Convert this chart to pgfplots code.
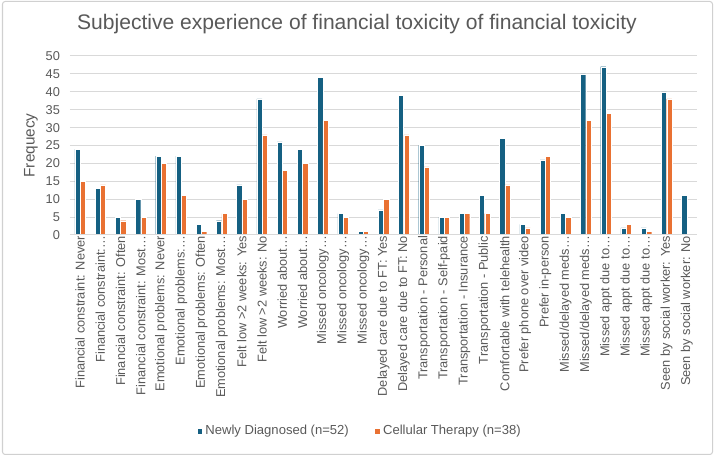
\documentclass[border=0pt]{standalone}
\usepackage{pgfplots}
\pgfplotsset{compat=1.18}
\usepackage{fontspec}
\setmainfont{Liberation Sans}
\definecolor{ndblue}{HTML}{156082}
\definecolor{ctorange}{HTML}{E97132}
\definecolor{txtgray}{HTML}{595959}
\definecolor{gridgray}{HTML}{D9D9D9}
\definecolor{framegray}{HTML}{D0D0D0}

% Frequencies per item: Newly Diagnosed (nd) and Cellular Therapy (ct)
\pgfplotstableread{
x nd ct
0  24 15
1  13 14
2  5  4
3  10 5
4  22 20
5  22 11
6  3  1
7  4  6
8  14 10
9  38 28
10 26 18
11 24 20
12 44 32
13 6  5
14 1  1
15 7  10
16 39 28
17 25 19
18 5  5
19 6  6
20 11 6
21 27 14
22 3  2
23 21 22
24 6  5
25 45 32
26 47 34
27 2  3
28 2  1
29 40 38
30 11 0
}\ftdata

\begin{document}
\begin{tikzpicture}
\begin{scope}[x=0.75pt,y=0.75pt]
\useasboundingbox (0,0) rectangle (715,456);
\draw[framegray,line width=0.75pt,rounded corners=2pt] (2.5,1.5) rectangle (712.5,454.5);
\node[txtgray,font=\fontsize{15.8}{18}\selectfont] at (357,432) {Subjective experience of financial toxicity of financial toxicity};
\end{scope}
\begin{axis}[
  at={(52.5pt,165.75pt)}, anchor=south west,
  scale only axis, width=470.25pt, height=134.25pt,
  xmin=-0.5, xmax=30.5, ymin=0, ymax=50,
  ytick={0,5,...,50},
  xtick=data,
  xticklabels={
    {Financial constraint: Never},
    {Financial constraint:\dots},
    {Financial constraint: Often},
    {Financial constraint: Most\dots},
    {Emotional problems: Never},
    {Emotional problems:\dots},
    {Emotional problems: Often},
    {Emotional problems: Most\dots},
    {Felt low >2 weeks: Yes},
    {Felt low >2 weeks: No},
    {Worried about\dots},
    {Worried about\dots},
    {Missed oncology\dots},
    {Missed oncology\dots},
    {Missed oncology\dots},
    {Delayed care due to FT: Yes},
    {Delayed care due to FT: No},
    {Transportation - Personal},
    {Transportation - Self-paid},
    {Transportation - Insurance},
    {Transportation - Public},
    {Comfortable with telehealth},
    {Prefer phone over video},
    {Prefer in-person},
    {Missed/delayed meds\dots},
    {Missed/delayed meds\dots},
    {Missed appt due to\dots},
    {Missed appt due to\dots},
    {Missed appt due to\dots},
    {Seen by social worker: Yes},
    {Seen by social worker: No}},
  xticklabel style={rotate=90, anchor=east, font=\fontsize{9.6}{10}\selectfont, text=txtgray, inner sep=1pt, xshift=0.5pt},
  yticklabel style={font=\fontsize{9.6}{10}\selectfont, text=txtgray, xshift=-4pt},
  /pgf/number format/assume math mode=true,
  major tick length=0pt,
  axis line style={draw=none},
  ymajorgrids, grid style={gridgray, line width=0.75pt},
  ylabel={Frequecy},
  ylabel style={font=\fontsize{11.5}{12}\selectfont, text=txtgray, yshift=-1pt},
  ybar, bar width=3.9pt,
  legend style={at={(axis description cs:0.4625,-1.095)}, anchor=center, draw=none, fill=none,
    legend columns=2, font=\fontsize{9.8}{11}\selectfont, text=txtgray,
    /tikz/every even column/.append style={column sep=17pt}},
  legend image code/.code={\fill[#1] (0pt,-2.2pt) rectangle (4.4pt,2.2pt);},
  clip=false,
]
\addplot[fill=ndblue, draw=white, line width=0.25pt, bar shift=-2.0pt] table[x=x,y=nd] {\ftdata};
\addplot[fill=ctorange, draw=white, line width=0.25pt, bar shift=2.0pt] table[x=x,y=ct] {\ftdata};
\draw[gridgray, line width=0.75pt] (axis cs:-0.5,0) -- (axis cs:30.5,0);
\legend{Newly Diagnosed (n=52), Cellular Therapy (n=38)}
\end{axis}
\end{tikzpicture}
\end{document}
